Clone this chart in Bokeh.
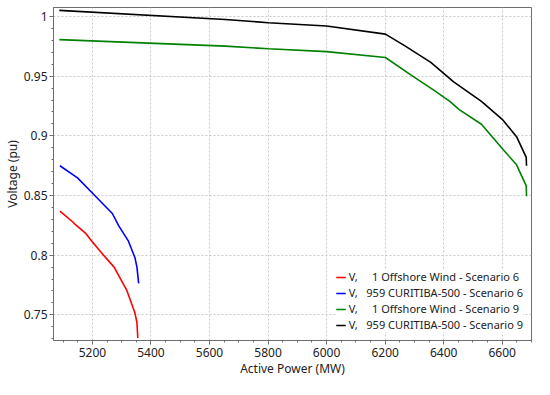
from bokeh.plotting import figure
from bokeh.models import Range1d, FixedTicker, Legend, LegendItem
from bokeh.embed import file_html
from bokeh.resources import INLINE

# ---- data ----
s6_off_x = [5089, 5132, 5143, 5176, 5198, 5230, 5274, 5317, 5345, 5352, 5355]
s6_off_y = [0.8368, 0.8280, 0.8253, 0.8185, 0.8117, 0.8022, 0.7900, 0.7708, 0.7518, 0.7436, 0.7306]

s6_cur_x = [5089, 5149, 5203, 5268, 5290, 5323, 5345, 5352, 5358]
s6_cur_y = [0.8749, 0.8648, 0.8512, 0.8349, 0.8245, 0.8117, 0.7981, 0.7900, 0.7763]

s9_off_x = [5087, 5654, 5801, 6000, 6201, 6290, 6366, 6421, 6453, 6529, 6600, 6649, 6682, 6683]
s9_off_y = [0.9806, 0.9751, 0.9730, 0.9705, 0.9656, 0.9506, 0.9383, 0.9288, 0.9220, 0.9097, 0.8893, 0.8757, 0.8580, 0.8493]

s9_cur_x = [5087, 5654, 5801, 6000, 6201, 6269, 6356, 6434, 6529, 6600, 6649, 6682, 6683]
s9_cur_y = [1.0051, 0.9975, 0.9947, 0.9920, 0.9852, 0.9751, 0.9615, 0.9452, 0.9289, 0.9138, 0.8993, 0.8819, 0.8749]

series_names = [
    "V,\u00a0\u00a0\u00a0\u00a0\u00a01 Offshore Wind - Scenario 6",
    "V,\u00a0\u00a0\u00a0959 CURITIBA-500 - Scenario 6",
    "V,\u00a0\u00a0\u00a0\u00a0\u00a01 Offshore Wind - Scenario 9",
    "V,\u00a0\u00a0\u00a0959 CURITIBA-500 - Scenario 9",
]
series_colors = ["#ff0000", "#0000ff", "#008000", "#000000"]

x_ticks = [5200, 5400, 5600, 5800, 6000, 6200, 6400, 6600]
y_ticks = [0.75, 0.8, 0.85, 0.9, 0.95, 1.0]
y_tick_labels = ["0.75", "0.8", "0.85", "0.9", "0.95", "1"]
x_minor = [5050 + 50 * i for i in range(34)]
y_minor = [round(0.72 + 0.01 * i, 2) for i in range(30)]

x_label = "Active Power (MW)"
y_label = "Voltage (pu)"

FONT = "Noto Sans"
AX = "#6e6e6e"

p = figure(width=534, height=379, output_backend="svg", toolbar_location=None,
           x_range=Range1d(5067, 6700), y_range=Range1d(0.7285, 1.0075),
           min_border_left=0, min_border_right=3, min_border_top=7, min_border_bottom=0)
p.background_fill_color = "white"
p.border_fill_color = "white"
p.outline_line_color = AX
p.outline_line_width = 1

for ax in (p.xaxis[0], p.yaxis[0]):
    ax.axis_line_color = AX
    ax.major_tick_line_color = AX
    ax.minor_tick_line_color = AX
    ax.major_tick_in = 0
    ax.major_tick_out = 4
    ax.minor_tick_in = 0
    ax.minor_tick_out = 2
    ax.major_label_text_font = FONT
    ax.major_label_text_font_size = "12px"
    ax.major_label_text_color = "#222222"
    ax.axis_label_text_font = FONT
    ax.axis_label_text_font_size = "12px"
    ax.axis_label_text_font_style = "normal"
    ax.axis_label_text_color = "#222222"

p.xaxis[0].ticker = FixedTicker(ticks=x_ticks, minor_ticks=x_minor)
p.yaxis[0].ticker = FixedTicker(ticks=y_ticks, minor_ticks=y_minor)
p.yaxis[0].major_label_overrides = {t: l for t, l in zip(y_ticks, y_tick_labels)}
p.xaxis[0].axis_label = x_label
p.yaxis[0].axis_label = y_label
p.xaxis[0].major_label_standoff = 3
p.xaxis[0].axis_label_standoff = 0
p.yaxis[0].major_label_standoff = 2
p.yaxis[0].axis_label_standoff = 0

for g in (p.xgrid[0], p.ygrid[0]):
    g.grid_line_color = "#c8c8c8"
    g.grid_line_dash = "2 2"
    g.grid_line_width = 1

data = [(s6_off_x, s6_off_y), (s6_cur_x, s6_cur_y), (s9_off_x, s9_off_y), (s9_cur_x, s9_cur_y)]
items = []
for (xs, ys), name, col in zip(data, series_names, series_colors):
    r = p.line(xs, ys, line_color=col, line_width=1.6)
    items.append(LegendItem(label=name, renderers=[r]))

legend = Legend(items=items, location="bottom_right", border_line_color=None,
                background_fill_color="white", background_fill_alpha=1.0,
                label_text_font=FONT, label_text_font_size="11px", label_text_color="#222222",
                glyph_width=10, glyph_height=12, label_height=12, spacing=1,
                padding=3, margin=8, label_standoff=3)
p.add_layout(legend)

open("out.html", "w").write(file_html(p, INLINE))
